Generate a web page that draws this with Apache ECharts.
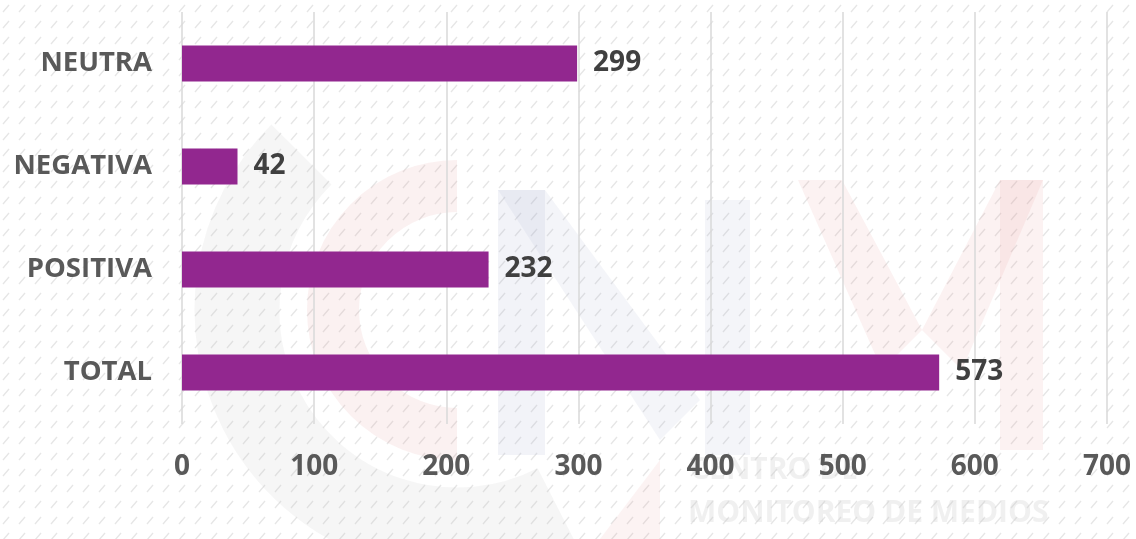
<!DOCTYPE html>
<html>
<head>
<meta charset="utf-8">
<script src="https://cdn.jsdelivr.net/npm/echarts@6/dist/echarts.min.js"></script>
<style>html,body{margin:0;padding:0;background:#fff}#c{width:1136px;height:539px}</style>
</head>
<body>
<div id="c"></div>
<script>
var categories = ['TOTAL', 'POSITIVA', 'NEGATIVA', 'NEUTRA'];
var values = [573, 232, 42, 299];
var xTicks = [0, 100, 200, 300, 400, 500, 600, 700];

// hatch background pattern
var pc = document.createElement('canvas');
pc.width = 16; pc.height = 16;
var g = pc.getContext('2d');
g.fillStyle = '#ffffff'; g.fillRect(0, 0, 16, 16);
g.strokeStyle = '#e6e6e6'; g.lineWidth = 1.3;
g.beginPath(); g.moveTo(3, 12); g.lineTo(9, 5); g.stroke();

var chart = echarts.init(document.getElementById('c'), null, {renderer: 'canvas'});
var FONT = '"Open Sans", "Noto Sans", sans-serif';
var PI = Math.PI;
chart.setOption({
  backgroundColor: {image: pc, repeat: 'repeat'},
  animation: false,
  graphic: [
    {type: 'arc', shape: {cx: 457, cy: 310, r: 220, startAngle: PI * 0.35, endAngle: PI * 1.25}, style: {stroke: 'rgba(190,190,190,0.14)', lineWidth: 85, fill: null}, z: -10, silent: true},
    {type: 'arc', shape: {cx: 457, cy: 310, r: 124, startAngle: PI * 0.5, endAngle: PI * 1.5}, style: {stroke: 'rgba(225,140,140,0.12)', lineWidth: 52, fill: null}, z: -10, silent: true},
    {type: 'rect', shape: {x: 498, y: 190, width: 47, height: 265}, style: {fill: 'rgba(150,160,200,0.12)'}, z: -10, silent: true},
    {type: 'polygon', shape: {points: [[498, 190], [545, 190], [700, 400], [660, 440]]}, style: {fill: 'rgba(150,160,200,0.10)'}, z: -10, silent: true},
    {type: 'rect', shape: {x: 705, y: 200, width: 45, height: 255}, style: {fill: 'rgba(150,160,200,0.10)'}, z: -10, silent: true},
    {type: 'polygon', shape: {points: [[798, 180], [842, 180], [922, 330], [882, 370]]}, style: {fill: 'rgba(225,140,140,0.11)'}, z: -10, silent: true},
    {type: 'polygon', shape: {points: [[1043, 180], [1000, 180], [922, 330], [962, 370]]}, style: {fill: 'rgba(225,140,140,0.11)'}, z: -10, silent: true},
    {type: 'rect', shape: {x: 1000, y: 180, width: 43, height: 270}, style: {fill: 'rgba(225,140,140,0.11)'}, z: -10, silent: true},
    {type: 'polygon', shape: {points: [[600, 539], [660, 460], [660, 539]]}, style: {fill: 'rgba(225,140,140,0.10)'}, z: -10, silent: true},
    {type: 'text', left: 690, top: 455, style: {text: 'CENTRO DE', font: 'bold 30px ' + FONT, fill: 'rgba(200,200,200,0.28)'}, z: -10, silent: true},
    {type: 'text', left: 688, top: 498, style: {text: 'MONITOREO DE MEDIOS', font: 'bold 30px ' + FONT, fill: 'rgba(200,200,200,0.28)'}, z: -10, silent: true}
  ],
  grid: {left: 182, right: 29, top: 12, bottom: 115, containLabel: false},
  xAxis: {
    type: 'value', min: xTicks[0], max: xTicks[xTicks.length - 1], interval: 100,
    axisLine: {show: false}, axisTick: {show: false},
    splitLine: {show: true, lineStyle: {color: '#d9d9d9', width: 1.5}},
    axisLabel: {margin: 29, color: '#595959', fontSize: 28, fontWeight: 'bold', fontFamily: FONT}
  },
  yAxis: {
    type: 'category', data: categories,
    axisLine: {show: false}, axisTick: {show: false},
    axisLabel: {margin: 30, color: '#595959', fontSize: 27.5, fontWeight: 'bold', fontFamily: FONT}
  },
  series: [{
    type: 'bar', data: values, barWidth: 36,
    itemStyle: {color: '#92278f'},
    label: {show: true, position: 'right', distance: 16, color: '#404040', fontSize: 28, fontWeight: 'bold', fontFamily: FONT}
  }]
});
</script>
</body>
</html>
